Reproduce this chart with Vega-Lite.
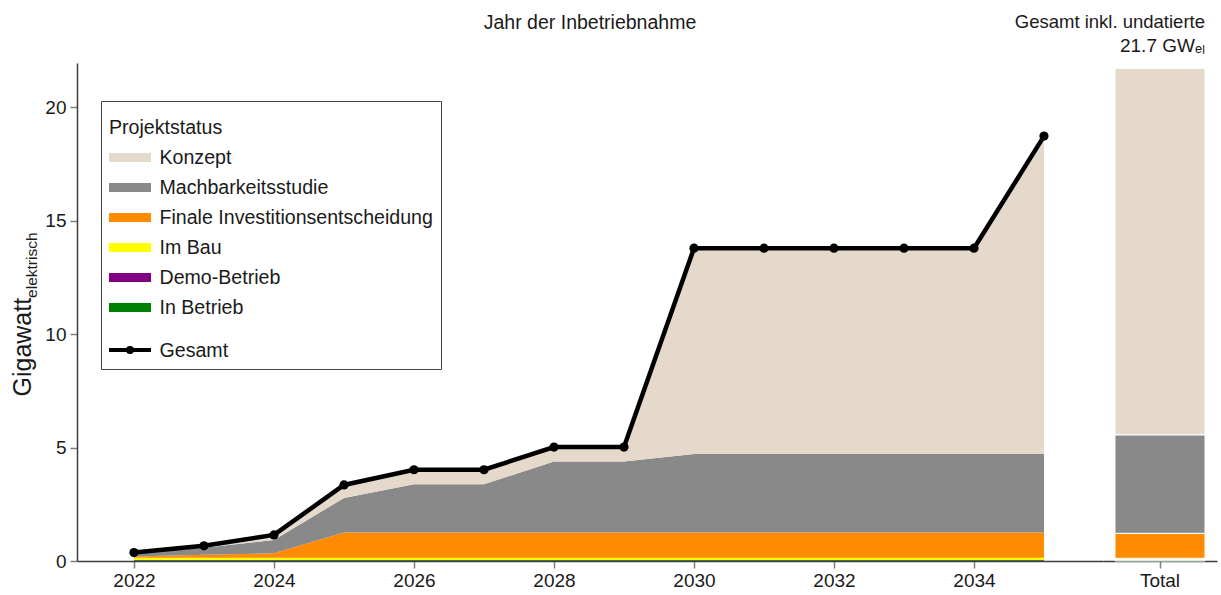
{
  "$schema": "https://vega.github.io/schema/vega-lite/v6.json",
  "padding": {"left": 10, "top": 12, "right": 3, "bottom": 4},
  "background": "white",
  "bounds": "flush",
  "spacing": 0,
  "config": {
    "font": "Liberation Sans",
    "view": {"stroke": null},
    "style": {"guide-label": {"lineHeight": 13}},
    "axis": {"labelFont": "Liberation Sans", "labelFontSize": 19, "labelColor": "#1a1a1a", "domainColor": "#3c3c3c", "domainWidth": 1.5, "tickColor": "#7f7f7f", "tickWidth": 1.5, "tickSize": 7, "grid": false, "titleFont": "Liberation Sans", "titleFontWeight": "normal", "titleColor": "#1a1a1a"},
    "title": {"font": "Liberation Sans", "fontWeight": "normal", "fontSize": 19.5, "color": "#1a1a1a", "subtitleFont": "Liberation Sans", "subtitleFontSize": 19, "subtitleColor": "#1a1a1a"}
  },
  "resolve": {"scale": {"color": "independent", "y": "independent"}},
  "datasets": {
    "dated": [
      {"year": 2022, "status": "In Betrieb", "ord": 1, "value": 0.03},
      {"year": 2022, "status": "Demo-Betrieb", "ord": 2, "value": 0.01},
      {"year": 2022, "status": "Im Bau", "ord": 3, "value": 0.10},
      {"year": 2022, "status": "Finale Investitionsentscheidung", "ord": 4, "value": 0.06},
      {"year": 2022, "status": "Machbarkeitsstudie", "ord": 5, "value": 0.12},
      {"year": 2022, "status": "Konzept", "ord": 6, "value": 0.05},
      {"year": 2023, "status": "In Betrieb", "ord": 1, "value": 0.03},
      {"year": 2023, "status": "Demo-Betrieb", "ord": 2, "value": 0.01},
      {"year": 2023, "status": "Im Bau", "ord": 3, "value": 0.10},
      {"year": 2023, "status": "Finale Investitionsentscheidung", "ord": 4, "value": 0.14},
      {"year": 2023, "status": "Machbarkeitsstudie", "ord": 5, "value": 0.30},
      {"year": 2023, "status": "Konzept", "ord": 6, "value": 0.09},
      {"year": 2024, "status": "In Betrieb", "ord": 1, "value": 0.03},
      {"year": 2024, "status": "Demo-Betrieb", "ord": 2, "value": 0.01},
      {"year": 2024, "status": "Im Bau", "ord": 3, "value": 0.10},
      {"year": 2024, "status": "Finale Investitionsentscheidung", "ord": 4, "value": 0.20},
      {"year": 2024, "status": "Machbarkeitsstudie", "ord": 5, "value": 0.58},
      {"year": 2024, "status": "Konzept", "ord": 6, "value": 0.23},
      {"year": 2025, "status": "In Betrieb", "ord": 1, "value": 0.03},
      {"year": 2025, "status": "Demo-Betrieb", "ord": 2, "value": 0.01},
      {"year": 2025, "status": "Im Bau", "ord": 3, "value": 0.10},
      {"year": 2025, "status": "Finale Investitionsentscheidung", "ord": 4, "value": 1.12},
      {"year": 2025, "status": "Machbarkeitsstudie", "ord": 5, "value": 1.52},
      {"year": 2025, "status": "Konzept", "ord": 6, "value": 0.57},
      {"year": 2026, "status": "In Betrieb", "ord": 1, "value": 0.03},
      {"year": 2026, "status": "Demo-Betrieb", "ord": 2, "value": 0.01},
      {"year": 2026, "status": "Im Bau", "ord": 3, "value": 0.10},
      {"year": 2026, "status": "Finale Investitionsentscheidung", "ord": 4, "value": 1.12},
      {"year": 2026, "status": "Machbarkeitsstudie", "ord": 5, "value": 2.12},
      {"year": 2026, "status": "Konzept", "ord": 6, "value": 0.64},
      {"year": 2027, "status": "In Betrieb", "ord": 1, "value": 0.03},
      {"year": 2027, "status": "Demo-Betrieb", "ord": 2, "value": 0.01},
      {"year": 2027, "status": "Im Bau", "ord": 3, "value": 0.10},
      {"year": 2027, "status": "Finale Investitionsentscheidung", "ord": 4, "value": 1.12},
      {"year": 2027, "status": "Machbarkeitsstudie", "ord": 5, "value": 2.12},
      {"year": 2027, "status": "Konzept", "ord": 6, "value": 0.64},
      {"year": 2028, "status": "In Betrieb", "ord": 1, "value": 0.03},
      {"year": 2028, "status": "Demo-Betrieb", "ord": 2, "value": 0.01},
      {"year": 2028, "status": "Im Bau", "ord": 3, "value": 0.10},
      {"year": 2028, "status": "Finale Investitionsentscheidung", "ord": 4, "value": 1.12},
      {"year": 2028, "status": "Machbarkeitsstudie", "ord": 5, "value": 3.12},
      {"year": 2028, "status": "Konzept", "ord": 6, "value": 0.64},
      {"year": 2029, "status": "In Betrieb", "ord": 1, "value": 0.03},
      {"year": 2029, "status": "Demo-Betrieb", "ord": 2, "value": 0.01},
      {"year": 2029, "status": "Im Bau", "ord": 3, "value": 0.10},
      {"year": 2029, "status": "Finale Investitionsentscheidung", "ord": 4, "value": 1.12},
      {"year": 2029, "status": "Machbarkeitsstudie", "ord": 5, "value": 3.12},
      {"year": 2029, "status": "Konzept", "ord": 6, "value": 0.64},
      {"year": 2030, "status": "In Betrieb", "ord": 1, "value": 0.03},
      {"year": 2030, "status": "Demo-Betrieb", "ord": 2, "value": 0.01},
      {"year": 2030, "status": "Im Bau", "ord": 3, "value": 0.10},
      {"year": 2030, "status": "Finale Investitionsentscheidung", "ord": 4, "value": 1.12},
      {"year": 2030, "status": "Machbarkeitsstudie", "ord": 5, "value": 3.45},
      {"year": 2030, "status": "Konzept", "ord": 6, "value": 9.07},
      {"year": 2031, "status": "In Betrieb", "ord": 1, "value": 0.03},
      {"year": 2031, "status": "Demo-Betrieb", "ord": 2, "value": 0.01},
      {"year": 2031, "status": "Im Bau", "ord": 3, "value": 0.10},
      {"year": 2031, "status": "Finale Investitionsentscheidung", "ord": 4, "value": 1.12},
      {"year": 2031, "status": "Machbarkeitsstudie", "ord": 5, "value": 3.45},
      {"year": 2031, "status": "Konzept", "ord": 6, "value": 9.07},
      {"year": 2032, "status": "In Betrieb", "ord": 1, "value": 0.03},
      {"year": 2032, "status": "Demo-Betrieb", "ord": 2, "value": 0.01},
      {"year": 2032, "status": "Im Bau", "ord": 3, "value": 0.10},
      {"year": 2032, "status": "Finale Investitionsentscheidung", "ord": 4, "value": 1.12},
      {"year": 2032, "status": "Machbarkeitsstudie", "ord": 5, "value": 3.45},
      {"year": 2032, "status": "Konzept", "ord": 6, "value": 9.07},
      {"year": 2033, "status": "In Betrieb", "ord": 1, "value": 0.03},
      {"year": 2033, "status": "Demo-Betrieb", "ord": 2, "value": 0.01},
      {"year": 2033, "status": "Im Bau", "ord": 3, "value": 0.10},
      {"year": 2033, "status": "Finale Investitionsentscheidung", "ord": 4, "value": 1.12},
      {"year": 2033, "status": "Machbarkeitsstudie", "ord": 5, "value": 3.45},
      {"year": 2033, "status": "Konzept", "ord": 6, "value": 9.07},
      {"year": 2034, "status": "In Betrieb", "ord": 1, "value": 0.03},
      {"year": 2034, "status": "Demo-Betrieb", "ord": 2, "value": 0.01},
      {"year": 2034, "status": "Im Bau", "ord": 3, "value": 0.10},
      {"year": 2034, "status": "Finale Investitionsentscheidung", "ord": 4, "value": 1.12},
      {"year": 2034, "status": "Machbarkeitsstudie", "ord": 5, "value": 3.45},
      {"year": 2034, "status": "Konzept", "ord": 6, "value": 9.07},
      {"year": 2035, "status": "In Betrieb", "ord": 1, "value": 0.03},
      {"year": 2035, "status": "Demo-Betrieb", "ord": 2, "value": 0.01},
      {"year": 2035, "status": "Im Bau", "ord": 3, "value": 0.10},
      {"year": 2035, "status": "Finale Investitionsentscheidung", "ord": 4, "value": 1.12},
      {"year": 2035, "status": "Machbarkeitsstudie", "ord": 5, "value": 3.45},
      {"year": 2035, "status": "Konzept", "ord": 6, "value": 14.01}
    ],
    "total": [
      {"cat": "Total", "status": "In Betrieb", "ord": 1, "value": 0.05},
      {"cat": "Total", "status": "Demo-Betrieb", "ord": 2, "value": 0.01},
      {"cat": "Total", "status": "Im Bau", "ord": 3, "value": 0.06},
      {"cat": "Total", "status": "Finale Investitionsentscheidung", "ord": 4, "value": 1.10},
      {"cat": "Total", "status": "Machbarkeitsstudie", "ord": 5, "value": 4.34},
      {"cat": "Total", "status": "Konzept", "ord": 6, "value": 16.14}
    ]
  },
  "hconcat": [
    {
      "width": 1026,
      "height": 498,
      "title": {"text": "Jahr der Inbetriebnahme", "anchor": "middle", "frame": "group", "offset": 30},
      "data": {"name": "dated"},
      "encoding": {
        "x": {"field": "year", "type": "quantitative", "scale": {"domain": [2021.186, 2035.843], "nice": false, "zero": false}, "axis": {"title": null, "values": [2022, 2024, 2026, 2028, 2030, 2032, 2034], "format": "d", "labelPadding": 3}}
      },
      "layer": [
        {
          "mark": {"type": "area", "interpolate": "linear", "opacity": 1},
          "encoding": {
            "y": {"field": "value", "type": "quantitative", "stack": "zero", "scale": {"domain": [0, 21.94], "nice": false},
              "axis": {"title": "Gigawatt", "values": [0, 5, 10, 15, 20], "labelPadding": 4, "titleFontSize": 25, "titleX": -47, "titleY": 283.7, "titleAngle": 270, "titleAlign": "center", "titleBaseline": "alphabetic"}},
            "color": {
              "field": "status", "type": "nominal",
              "scale": {
                "domain": ["Konzept", "Machbarkeitsstudie", "Finale Investitionsentscheidung", "Im Bau", "Demo-Betrieb", "In Betrieb", "Gesamt"],
                "range": ["#e5d9cb", "#898989", "#ff8b00", "#ffff00", "#800080", "#008000", "transparent"]
              },
              "legend": {
                "title": ["", "Projektstatus"],
                "orient": "none", "legendX": 24, "legendY": 38, "direction": "vertical",
                "fillColor": "white", "strokeColor": "#444444", "padding": 8, "cornerRadius": 0,
                "titleFontSize": 19.6, "titleFontWeight": "normal", "titleColor": "#1a1a1a", "titleLineHeight": 10, "titlePadding": 9, "titleBaseline": "top",
                "labelFontSize": 19.6, "labelColor": "#1a1a1a", "labelOffset": 19.5, "labelLimit": 400,
                "symbolType": "M-2.1,-0.45H2.1V0.45H-2.1Z", "symbolSize": 400, "symbolStrokeWidth": 0, "symbolOffset": 11, "symbolOpacity": 1, "rowPadding": 10,
                "labelExpr": "datum.value === 'Gesamt' ? ['', 'Gesamt'] : datum.label"
              }
            },
            "order": {"field": "ord", "type": "quantitative"}
          }
        },
        {
          "mark": {"type": "line", "strokeWidth": 4.5},
          "encoding": {
            "y": {"aggregate": "sum", "field": "value", "type": "quantitative",
              "axis": {"title": "elektrisch", "orient": "left", "labels": false, "ticks": false, "domain": false, "grid": false, "titleFontSize": 15.5, "titleX": -41, "titleY": 201.7, "titleAngle": 270, "titleAlign": "center", "titleBaseline": "alphabetic"}},
            "stroke": {
              "datum": "Gesamt", "type": "nominal",
              "scale": {"domain": ["Gesamt"], "range": ["#000000"]},
              "legend": {
                "title": null, "orient": "none", "legendX": 41, "legendY": 275, "direction": "vertical",
                "padding": 0, "labelExpr": "''", "labelFontSize": 1,
                "symbolType": "M-2.1,0H2.1M-0.2,0A0.2,0.2,0,1,1,0.2,0A0.2,0.2,0,1,1,-0.2,0",
                "symbolSize": 400, "symbolStrokeWidth": 4, "symbolOffset": 0, "symbolOpacity": 1,
                "symbolStrokeColor": "#000000"
              }
            }
          }
        },
        {
          "mark": {"type": "point", "filled": true, "size": 85, "opacity": 1, "color": "#000000"},
          "encoding": {
            "y": {"aggregate": "sum", "field": "value", "type": "quantitative", "axis": null}
          }
        }
      ],
      "resolve": {"axis": {"y": "independent"}}
    },
    {
      "width": 114,
      "height": 498,
      "title": {"text": "Gesamt inkl. undatierte", "subtitle": "21.7 GWₑₗ", "anchor": "end", "frame": "group", "dx": -12, "offset": 7, "subtitlePadding": 6, "fontSize": 18.5},
      "data": {"name": "total"},
      "mark": {"type": "bar", "width": {"band": 0.79}, "stroke": "white", "strokeWidth": 1},
      "encoding": {
        "x": {"field": "cat", "type": "nominal", "scale": {"paddingInner": 0, "paddingOuter": 0}, "axis": {"title": null, "labelAngle": 0, "labelPadding": 3}},
        "y": {"field": "value", "type": "quantitative", "stack": "zero", "scale": {"domain": [0, 21.94], "nice": false}, "axis": null},
        "color": {
          "field": "status", "type": "nominal",
          "scale": {
            "domain": ["Konzept", "Machbarkeitsstudie", "Finale Investitionsentscheidung", "Im Bau", "Demo-Betrieb", "In Betrieb"],
            "range": ["#e5d9cb", "#898989", "#ff8b00", "#ffff00", "#800080", "#008000"]
          },
          "legend": null
        },
        "order": {"field": "ord", "type": "quantitative"}
      }
    }
  ]
}
